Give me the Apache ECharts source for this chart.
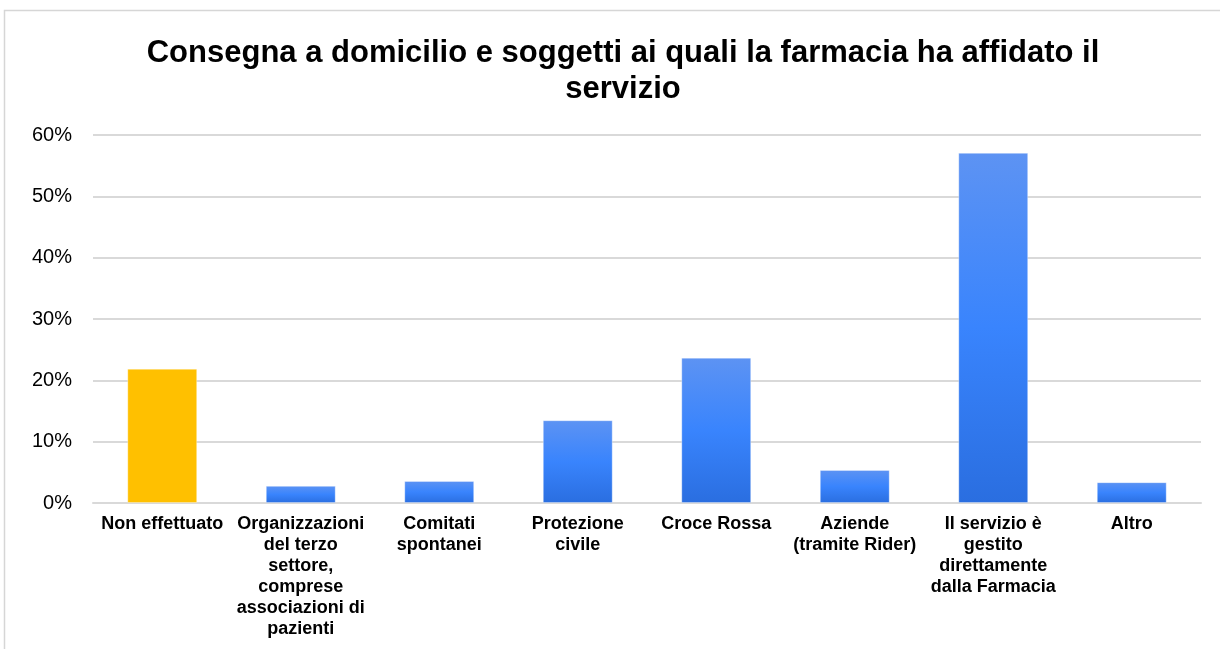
<!DOCTYPE html>
<html>
<head>
<meta charset="utf-8">
<script src="https://cdn.jsdelivr.net/npm/echarts@6/dist/echarts.min.js"></script>
<style>
  html, body { margin: 0; padding: 0; background: #fff; }
  #chart { width: 1220px; height: 649px; }
</style>
</head>
<body>
<div id="chart"></div>
<script>
// Categories (multi-line labels as shown under each bar)
const categories = [
  'Non effettuato',
  'Organizzazioni\ndel terzo\nsettore,\ncomprese\nassociazioni di\npazienti',
  'Comitati\nspontanei',
  'Protezione\ncivile',
  'Croce Rossa',
  'Aziende\n(tramite Rider)',
  'Il servizio è\ngestito\ndirettamente\ndalla Farmacia',
  'Altro'
];

// Share of pharmacies (%)
const values = [21.9, 2.8, 3.6, 13.5, 23.7, 5.4, 57.1, 3.4];

// Y axis ticks (%)
const yTicks = [0, 10, 20, 30, 40, 50, 60];

const titleText = 'Consegna a domicilio e soggetti ai quali la farmacia ha affidato il\nservizio';

const blueFill = {
  type: 'linear', x: 0, y: 0, x2: 0, y2: 1,
  colorStops: [
    { offset: 0, color: '#5d93f3' },
    { offset: 0.5, color: '#3984fd' },
    { offset: 1, color: '#2a6ee0' }
  ]
};

const chart = echarts.init(document.getElementById('chart'), null, { renderer: 'canvas' });

chart.setOption({
  backgroundColor: '#ffffff',
  animation: false,
  title: {
    text: titleText,
    left: 618,
    textAlign: 'center',
    top: 30,
    textStyle: {
      fontFamily: 'Liberation Sans, Arial, sans-serif',
      fontWeight: 'bold',
      fontSize: 31,
      lineHeight: 36,
      color: '#000'
    }
  },
  graphic: [{
    type: 'rect',
    shape: { x: 4.5, y: 10.5, width: 1230, height: 660 },
    style: { fill: 'none', stroke: '#d6d6d6', lineWidth: 1.5 },
    silent: true,
    z: -1
  }],
  grid: { left: 93, right: 19, top: 135, bottom: 146, containLabel: false },
  xAxis: {
    type: 'category',
    data: categories,
    axisTick: { show: false },
    axisLine: { show: true, lineStyle: { color: '#d9d9d9', width: 2 } },
    axisLabel: {
      interval: 0,
      margin: 11,
      fontFamily: 'Liberation Sans, Arial, sans-serif',
      fontWeight: 'bold',
      fontSize: 18,
      lineHeight: 21,
      color: '#000'
    }
  },
  yAxis: {
    type: 'value',
    min: yTicks[0],
    max: yTicks[yTicks.length - 1],
    interval: 10,
    axisLine: { show: false },
    axisTick: { show: false },
    splitLine: { lineStyle: { color: '#d9d9d9', width: 2 } },
    axisLabel: {
      margin: 21,
      formatter: v => v + '%',
      fontFamily: 'Liberation Sans, Arial, sans-serif',
      fontSize: 20,
      color: '#000'
    }
  },
  series: [{
    type: 'bar',
    data: values.map((v, i) => ({
      value: v,
      itemStyle: { color: i === 0 ? '#ffc000' : blueFill }
    })),
    barWidth: '50.5%',
    itemStyle: { borderColor: 'rgba(255,255,255,0.35)', borderWidth: 1 }
  }]
});
</script>
</body>
</html>
